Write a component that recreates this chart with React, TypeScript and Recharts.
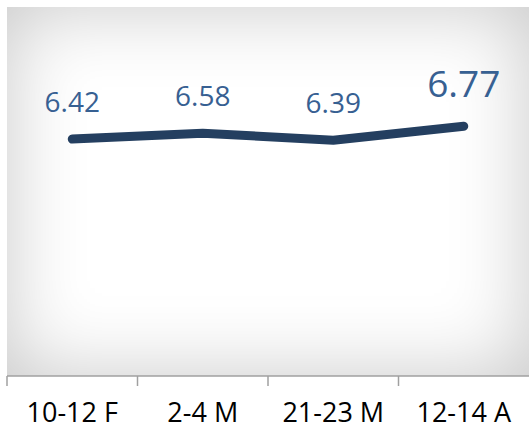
import { LineChart, Line, XAxis, YAxis, LabelList } from 'recharts'

const periods = ['10-12 F', '2-4 M', '21-23 M', '12-14 A']
const scores = [6.42, 6.58, 6.39, 6.77]

const data = periods.map((p, i) => ({ period: p, score: scores[i] }))

const FONT = '"Open Sans", sans-serif'
const BAND = 522 / periods.length

const ScoreLabel = (props: any) => {
  const { x, y, value, index } = props
  const last = index === scores.length - 1
  return (
    <text
      x={x}
      y={y - (last ? 29 : 27)}
      textAnchor="middle"
      fill="#376092"
      fontFamily={FONT}
      fontSize={last ? 37 : 28}
    >
      {Number(value).toFixed(2)}
    </text>
  )
}

// tick marks sit on the category boundaries, labels in the middle
const PeriodTick = (props: any) => {
  const { x, y, payload } = props
  const left = x - BAND / 2
  return (
    <g>
      <line x1={left} x2={left} y1={y} y2={y + 10} stroke="#a0a0a0" strokeWidth={1.5} />
      <text x={x} y={y + 46} textAnchor="middle" fill="#000" fontFamily={FONT} fontSize={27}>
        {payload.value}
      </text>
    </g>
  )
}

export default function App() {
  return (
    <div style={{ position: 'absolute', left: 0, top: 0, width: 529, height: 429, background: '#fff' }}>
      <div
        style={{
          position: 'absolute',
          left: 7,
          top: 7,
          width: 522,
          height: 369,
          background: '#fff',
          boxShadow: 'inset 0 0 80px rgba(0,0,0,0.22)',
        }}
      />
      <div style={{ position: 'absolute', left: 0, top: 0 }}>
        <LineChart width={529} height={429} data={data} margin={{ top: 7, right: 0, left: 7, bottom: 0 }}>
          <YAxis hide domain={[0, 10]} />
          <XAxis
            dataKey="period"
            scale="band"
            height={53}
            stroke="#a0a0a0"
            strokeWidth={1.5}
            tickLine={false}
            tickSize={0}
            tickMargin={0}
            tick={<PeriodTick />}
            interval={0}
          />
          <Line
            type="linear"
            dataKey="score"
            stroke="#243F60"
            strokeWidth={9}
            strokeLinecap="round"
            strokeLinejoin="round"
            dot={false}
            isAnimationActive={false}
          >
            <LabelList dataKey="score" content={<ScoreLabel />} />
          </Line>
        </LineChart>
      </div>
    </div>
  )
}
